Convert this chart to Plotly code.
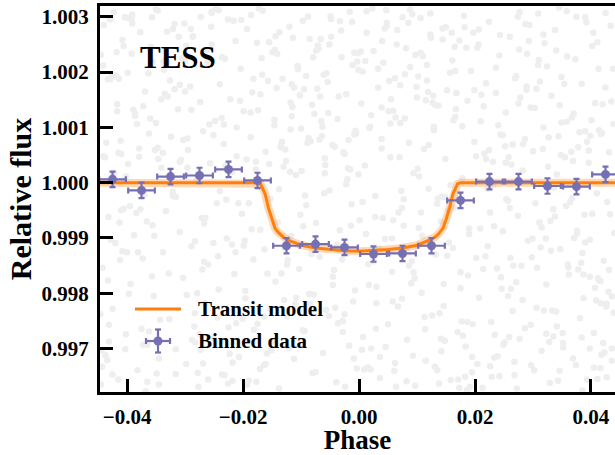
import plotly.graph_objects as go

# ---------------- data ----------------
# raw (unbinned) photometry, read approximately: phase in units of 1e-4, flux offset in ppm
raw_phase_e4 = [
    -445,-442,-441,-437,-433,-432,-429,-425,-424,-420,
    -417,-415,-411,-408,-406,-402,-399,-398,-394,-391,
    -388,-386,-382,-379,-377,-373,-370,-369,-365,-362,
    -359,-356,-354,-350,-347,-345,-341,-338,-336,-333,
    -330,-327,-324,-321,-318,-316,-312,-309,-307,-303,
    -300,-298,-295,-291,-289,-286,-283,-280,-277,-274,
    -271,-269,-265,-262,-260,-257,-254,-251,-248,-245,
    -242,-240,-236,-233,-231,-228,-225,-222,-219,-216,
    -213,-211,-207,-204,-202,-199,-196,-193,-190,-187,
    -184,-182,-178,-175,-173,-170,-167,-164,-161,-158,
    -155,-153,-149,-146,-144,-141,-138,-135,-132,-129,
    -126,-124,-120,-117,-115,-112,-109,-106,-103,-100,
    -97,-95,-91,-88,-86,-83,-80,-77,-74,-71,
    -68,-66,-62,-59,-57,-54,-51,-48,-45,-42,
    -39,-37,-33,-30,-28,-25,-22,-19,-16,-13,
    -10,-8,-4,-1,1,4,7,10,13,16,
    19,21,25,28,30,33,36,39,42,45,
    48,50,54,57,59,62,65,68,71,74,
    77,79,83,86,88,91,94,97,100,103,
    106,108,112,115,117,120,123,126,129,132,
    135,137,141,144,146,149,152,155,158,161,
    164,166,170,173,175,178,181,184,187,190,
    193,195,199,202,204,207,210,213,216,219,
    222,224,228,231,233,236,239,242,245,248,
    251,253,257,260,262,265,268,271,274,277,
    280,282,286,289,291,294,297,300,303,306,
    309,311,315,318,320,323,326,329,332,335,
    338,340,344,347,349,352,355,358,361,364,
    367,369,373,376,378,381,384,387,390,393,
    396,398,402,405,407,410,413,416,419,422,
    425,427,431,434,436,439,
    -431,127,-58,362,-290,15,244,-377,88,-163,
    401,-212,309,-96,-438,173,52,-321,276,-7,
    -144,390,-269,211,-402,67,-33,338,-187,142,
    25,-356,428,-118,259,-247,96,-415,183,-72,
    317,-9,-298,152,-363,402,-181,39,231,-440,
    -84,286,-226,110,376,-341,-17,197,-130,431,
    62,-395,240,-52,-273,346,120,-199,411,-316,
    -159,3,299,-422,168,-108,385,-237,75,-366,
    219,-45,-331,436,-174,136,33,-284,327,-123,
    -404,265,-67,190,-218,414,-2,-357,101,352,
    -251,144,-425,283,-91,58,-309,398,-142,226,
    11,-381,341,-193,85,-265,420,-24,166,-433,
    304,-116,-343,47,238,-410,131,-79,371,-233,
    -170,418,-5,-297,206,-60,323,-386,92,162,
    -446,252,-137,383,-22,-260,117,440,-205,29,
    345,-328,70,-151,269,-413,185,-41,393,-278,
    -101,215,-372,6,331,-226,148,-445,54,290,
    407,-63,-190,243,-345,99,-124,366,-301,177,
    -15,335,-419,121,-254,427,-87,41,-168,257,
    -389,158,20,-213,378,-135,277,-326,109,-49,
    233,-441,315,-81,139,-296,44,416,-177,-360,
    81,-243,396,-28,-318,204,-398,155,349,-110,
    -267,48,387,-155,272,-35,-408,124,-229,312,
    178,-349,-74,433,-196,13,296,-436,115,-283,
    -121,370,-240,66,188,-379,423,-56,248,-8,
    354,-164,-423,261,-99,138,-335,30,380,-208,
    -43,202,-311,405,-146,77,-262,328,-20,-392,
    293,-428,114,-182,357,-70,229,-303,17,167,
    -218,438,-338,86,-12,319,-116,-368,253,59,
    132,-275,359,-138,-444,199,-29,287,-201,417,
    -353,23,246,-89,374,-254,107,-417,341,-61,
    160,-193,-383,282,71,-321,412,-149,36,224,
    -78,390,-232,150,-400,263,-3,-288,128,336,
    -429,94,-127,302,-48,209,-372,439,-166,5,
    260,-305,46,-211,398,-97,171,-346,119,313,
    -186,417,-19,-267,236,-434,63,351,-133,-51,
    385,-112,191,-392,28,275,-244,104,-321,430,
    -65,148,-357,322,-178,9,-420,214,-85,367,
    196,-296,90,425,-223,55,-140,310,-412,-27,
    -335,242,-53,135,-279,404,-161,18,289,-375,
    73,-406,333,-102,186,-251,392,-38,-194,146,
    -300,12,274,-431,163,-75,348,-215,97,421,
    226,-157,-384,40,298,-119,179,-350,409,-6,
    -236,360,-68,195,-426,113,-289,254,-31,82,
    414,-203,141,-347,57,324,-171,435,-93,-258,
    -18,268,-414,175,-114,389,-36,-230,123,307,
    -362,79,221,-145,343,-309,35,182,-397,258,
    106,-82,-273,399,-11,234,-352,64,296,-185,
    -410,318,-134,21,249,-242,426,-59,157,-316,
    278,-25,369,-219,-391,93,-105,330,-282,51,
    -129,207,-443,358,6,-176,271,-46,411,-337,
    39,-270,165,-94,306,-403,129,375,-153,-14,
    340,-365,-1,218,-255,436,-118,74,-330,187,
    -197,102,384,-287,61,-64,266,-418,143,346,
]
raw_flux_ppm = [
    2310,-1540,480,-3120,1870,-620,2950,-2280,130,-1090,
    1420,-3560,760,2580,-470,-2740,1990,340,-1830,3040,
    -950,1210,-3390,620,2720,-1370,-220,1650,-2930,890,
    2460,-770,-2050,1080,3110,-3650,270,-1260,2040,-510,
    1560,-2470,830,-180,2870,-3010,1330,-890,410,-1720,
    2190,-3280,590,1740,-1150,2650,-2360,60,-3690,1460,
    -640,930,-2180,2400,-1480,350,3070,-2810,1120,-370,
    -1930,1780,-3470,700,2240,-1010,-2620,1510,190,2930,
    -1260,480,-3150,2060,-560,1290,-2090,2780,-3580,820,
    1630,-1390,240,-2550,3150,-850,1950,-3300,560,-1640,
    2540,-290,-2870,1040,-1790,2330,-3720,670,1880,-1180,
    390,-2420,2820,-960,1370,-3190,140,2110,-1560,980,
    -2670,1690,-410,3000,-2010,750,-3440,1240,-730,2480,
    -1340,2600,-3080,440,-2300,1820,-140,2960,-1700,650,
    -3610,1150,-860,2270,-2500,520,1600,-1270,3090,-390,
    -2150,870,-3360,2040,-680,1430,-2790,310,2710,-1470,
    1010,-3000,2380,-240,-1880,1720,-3530,790,2170,-1020,
    2890,-2560,460,-1610,1300,-3260,2500,-540,1080,-2100,
    -300,1960,-2840,720,3130,-1420,170,-3670,1540,-820,
    2350,-1990,610,-3220,1850,-110,2680,-2400,950,-1300,
    -3390,1390,-700,2790,-2230,430,1670,-1080,-3570,2210,
    -450,1190,-2700,2570,-1620,80,3020,-2960,1480,-930,
    2020,-3430,740,-1360,2440,-2080,1110,-3710,530,1800,
    -1150,2910,-2520,380,-790,1620,-3140,2300,-1710,860,
    -2890,1270,-330,2640,-1920,690,-3480,1930,-600,3080,
    -1500,220,-2630,1740,-1050,2850,-3300,570,1350,-2260,
    2130,-720,-3040,1000,2520,-1840,290,-3620,1570,-480,
    2760,-2330,840,-1200,1910,-2980,460,3100,-1530,-350,
    1180,-3180,2230,-870,640,-2450,1790,-1660,2990,-3560,
    360,-1030,2470,-2720,1440,-190,2060,-3350,900,-1410,
    1720,-2190,550,2840,-3000,1060,
    -2870,1450,320,-1660,2780,-3340,870,-480,2090,-1210,
    1130,-2540,3060,-790,460,-3710,1840,-160,2410,-1950,
    2650,-1080,-3270,1590,110,-2240,2920,-610,1270,-3050,
    -1420,2180,-350,960,-2790,3140,-1730,540,-3510,1700,
    610,-3180,2470,-1320,1980,-560,-2660,1360,-40,2850,
    -2190,790,-3630,2290,-920,1510,-2950,2710,290,-1580,
    1890,-420,1040,-2410,3000,-3400,680,-1140,2540,-260,
    -3090,2370,-1010,180,1620,-2080,-3760,1170,2990,-700,
    430,-1850,2730,-3220,1310,-290,2060,-2600,820,-1400,
    2990,-2320,1560,-830,-3580,950,2340,-1690,250,-2900,
    -1090,2590,-3470,700,1930,-2150,380,-3000,1710,-540,
    2200,-1260,150,-2860,2890,-640,1420,-3690,2020,-1770,
    -370,1780,-2480,3120,-1550,520,-3330,2270,-1000,1050,
    1600,-3110,900,-2030,2500,-190,-2730,1240,3050,-1180,
    -2380,660,2720,-1450,-30,-3560,2130,-910,1480,-2640,
    3170,-1640,460,-3030,1890,-720,2440,-2260,740,-3440,
    -580,1380,-2930,2010,-1230,2950,-260,-3650,1070,2330,
    -1900,1010,-370,2670,-3180,1730,-1480,560,2880,-2510,
    240,-2780,1940,-1110,3090,-3520,810,-640,2250,-2050,
    1320,-40,-3380,2560,-1570,640,-2820,1850,-960,3010,
    -3160,2120,-810,1410,-2360,270,2790,-1780,-3600,1160,
    2430,-1330,580,-2700,1690,-3280,2980,-500,1090,-2200,
    -740,2840,-2090,340,-3720,1560,-1240,2620,-310,1830,
    1020,-3450,2390,-570,-1960,3100,-2570,720,1490,-1060,
    -2990,1250,-150,2760,-1680,470,-3070,1980,-880,2350,
    1790,-2420,3080,-1360,210,-3630,1610,-2180,910,-370,
    -1580,480,2640,-3340,1140,-780,2170,-2880,60,2960,
    2560,-1030,-2650,1880,-420,2420,-3510,770,-1850,1330,
    -3250,2060,540,-1500,2910,-2310,1200,-3770,360,-680,
    1400,-2740,2280,-120,-3030,1670,-1390,2870,-2460,880,
    -960,3150,-1920,720,-3300,2500,-540,1290,-2600,1950,
    2710,-3660,1060,-2120,1760,-240,-1730,2360,-3150,590,
    -2020,930,-3480,2810,-1260,330,2190,-2840,1570,-90,
    1870,-1620,600,-3390,2640,-830,1380,-2350,3110,-3020,
    -460,2250,-2970,1000,-1700,2930,-3560,430,1640,-1170,
    3030,-2180,260,-1430,2080,-3210,1180,-2720,740,2500,
    -1270,1720,-3690,2330,-620,1430,-2440,110,2780,-1970,
    1110,-2860,2990,-1010,380,-3380,1920,-1560,2600,-280,
    -2560,800,-1820,3070,-3100,1510,-720,2220,-1400,550,
    2140,-3500,1260,-380,-2000,2710,-3280,990,1680,-2640,
    -150,2470,-2310,1580,-3750,860,2900,-1120,420,-1830,
    1650,-930,3000,-2570,1130,-3430,500,-1650,2310,-2900,
    -3320,1840,-550,2560,-1350,200,-2770,3130,-2130,940,
    2270,-1480,780,-3150,1950,-2430,1320,-300,2750,-3590,
    -1770,2940,-2820,630,-1010,2100,-3370,1470,-230,1050,
    770,-3240,1880,-1910,2620,-580,-2540,310,3060,-1540,
    -2690,1160,-110,2400,-3580,1770,-1190,2810,-2010,460,
    2980,-1290,-3020,850,2130,-2750,590,-3690,1360,-840,
    -500,2680,-1640,1220,-2930,3120,-2240,170,1990,-3460,
    1540,-2380,390,-1120,2880,-3130,2050,-690,-2890,1290,
    -2120,2770,-3330,1100,-350,2530,-1800,680,-3550,2190,
    620,-1570,2460,-2680,1700,-3010,1010,3000,-2280,-780,
    2390,-3600,150,-1330,2820,-2060,1450,-460,2170,-2520,
    -1050,1920,-2800,2640,-3400,840,-1500,2360,-250,1400,
]

# transit model
model_phase = [-0.0447, -0.0175, -0.0170, -0.0165, -0.0162, -0.0156, -0.0150, -0.0145,
               -0.0140, -0.0135, -0.0130, -0.0125, -0.0120, -0.0110, -0.0100, -0.0075,
               -0.0050, -0.0025, 0.0000, 0.0025, 0.0050, 0.0075, 0.0100, 0.0110,
               0.0120, 0.0125, 0.0130, 0.0135, 0.0140, 0.0145, 0.0150, 0.0156,
               0.0162, 0.0165, 0.0170, 0.0175, 0.0447]
model_flux = [1.00000, 1.00000, 0.99998, 0.99988, 0.99980, 0.99954, 0.99933, 0.99918,
              0.99911, 0.99905, 0.99901, 0.99898, 0.99895, 0.99891, 0.99887, 0.99882,
              0.99879, 0.99877, 0.99876, 0.99877, 0.99879, 0.99882, 0.99887, 0.99891,
              0.99895, 0.99898, 0.99901, 0.99905, 0.99911, 0.99918, 0.99933, 0.99954,
              0.99980, 0.99988, 0.99998, 1.00000, 1.00000]

# binned data
bin_phase = [-0.0425, -0.0375, -0.0325, -0.0275, -0.0225, -0.0175, -0.0125, -0.0075, -0.0025,
             0.0025, 0.0075, 0.0125, 0.0175, 0.0225, 0.0275, 0.0325, 0.0375, 0.0425]
bin_flux = [1.00006, 0.99986, 1.00011, 1.00013, 1.00024, 1.00004, 0.99886, 0.99889, 0.99883,
            0.99871, 0.99872, 0.99886, 0.99968, 1.00002, 1.00002, 0.99994, 0.99993, 1.00015]
bin_flux_err = [0.00014] * len(bin_phase)
bin_phase_err = [0.0023] * len(bin_phase)

x_ticks = [-0.04, -0.02, 0.00, 0.02, 0.04]
y_ticks = [0.997, 0.998, 0.999, 1.000, 1.001, 1.002, 1.003]

# ---------------- figure ----------------
FONT = "Liberation Serif"
PURPLE = "#7570b3"
ORANGE = "#ff7f0e"

raw_phase = [p * 1e-4 for p in raw_phase_e4]
raw_flux = [1.0 + f * 1e-6 for f in raw_flux_ppm]

fig = go.Figure()
fig.add_trace(go.Scatter(x=raw_phase, y=raw_flux, mode="markers",
                         marker=dict(size=6.5, color="#eeeeee", line=dict(width=0)),
                         showlegend=False, hoverinfo="skip"))
fig.add_trace(go.Scatter(x=model_phase, y=model_flux, mode="lines",
                         line=dict(color="rgba(255,127,14,0.3)", width=8),
                         showlegend=False, hoverinfo="skip"))
fig.add_trace(go.Scatter(x=model_phase, y=model_flux, mode="lines",
                         line=dict(color=ORANGE, width=3), name="Transit model",
                         showlegend=False))
fig.add_trace(go.Scatter(x=bin_phase, y=bin_flux, mode="markers", name="Binned data",
                         marker=dict(size=9, color=PURPLE),
                         error_y=dict(type="data", array=bin_flux_err, color=PURPLE,
                                      thickness=2.2, width=3),
                         error_x=dict(type="data", array=bin_phase_err, color=PURPLE,
                                      thickness=2.2, width=3),
                         showlegend=False))

# plot area in pixels: x 100..615, y 6..392
def px(xp):
    return (xp - 100) / 515.0

def py(yp):
    return (392 - yp) / 386.0

shapes = [
    # legend: model line
    dict(type="line", xref="paper", yref="paper", x0=px(135), x1=px(181), y0=py(309), y1=py(309),
         line=dict(color=ORANGE, width=3)),
    # legend: binned data cross with caps
    dict(type="line", xref="paper", yref="paper", x0=px(146), x1=px(170), y0=py(341), y1=py(341),
         line=dict(color=PURPLE, width=2.2)),
    dict(type="line", xref="paper", yref="paper", x0=px(158), x1=px(158), y0=py(329.5), y1=py(352.5),
         line=dict(color=PURPLE, width=2.2)),
    dict(type="line", xref="paper", yref="paper", x0=px(146), x1=px(146), y0=py(338), y1=py(344),
         line=dict(color=PURPLE, width=2.2)),
    dict(type="line", xref="paper", yref="paper", x0=px(170), x1=px(170), y0=py(338), y1=py(344),
         line=dict(color=PURPLE, width=2.2)),
    dict(type="line", xref="paper", yref="paper", x0=px(155), x1=px(161), y0=py(329.5), y1=py(329.5),
         line=dict(color=PURPLE, width=2.2)),
    dict(type="line", xref="paper", yref="paper", x0=px(155), x1=px(161), y0=py(352.5), y1=py(352.5),
         line=dict(color=PURPLE, width=2.2)),
    dict(type="circle", xref="paper", yref="paper", x0=px(153.5), x1=px(162.5), y0=py(336.5), y1=py(345.5),
         fillcolor=PURPLE, line=dict(width=0)),
]

annotations = [
    dict(text="TESS", xref="paper", yref="paper", x=px(138), y=py(57), xanchor="left",
         yanchor="middle", showarrow=False,
         font=dict(family=FONT, size=31, color="black", weight="bold")),
    dict(text="Transit model", xref="paper", yref="paper", x=px(196), y=py(309),
         xanchor="left", yanchor="middle", showarrow=False,
         font=dict(family=FONT, size=21, color="black", weight="bold")),
    dict(text="Binned data", xref="paper", yref="paper", x=px(196), y=py(341),
         xanchor="left", yanchor="middle", showarrow=False,
         font=dict(family=FONT, size=21, color="black", weight="bold")),
]

fig.update_layout(
    width=615, height=455,
    margin=dict(l=100, r=0, t=6, b=63),
    plot_bgcolor="white", paper_bgcolor="white",
    font=dict(family=FONT, size=21, color="black", weight="bold"),
    shapes=shapes, annotations=annotations,
    showlegend=False,
)
fig.update_xaxes(
    range=[-0.04466, 0.04414], tickvals=x_ticks, tickformat=".2f",
    ticks="inside", ticklen=13, tickwidth=3, tickcolor="black",
    showline=True, linewidth=3, linecolor="black", mirror=True,
    showgrid=False, zeroline=False, ticklabelstandoff=4, automargin=False,
    tickfont=dict(family=FONT, size=21, color="black", weight="bold"),
    title=dict(text="Phase", standoff=11,
               font=dict(family=FONT, size=27, color="black", weight="bold")),
)
fig.update_yaxes(
    range=[0.996215, 1.003195], tickvals=y_ticks, tickformat=".3f",
    ticks="inside", ticklen=13, tickwidth=3, tickcolor="black",
    showline=True, linewidth=3, linecolor="black", mirror=False,
    showgrid=False, zeroline=False, ticklabelstandoff=4, automargin=False,
    tickfont=dict(family=FONT, size=21, color="black", weight="bold"),
    title=dict(text="Relative flux", standoff=2,
               font=dict(family=FONT, size=30, color="black", weight="bold")),
)

fig.write_html("out.html")
